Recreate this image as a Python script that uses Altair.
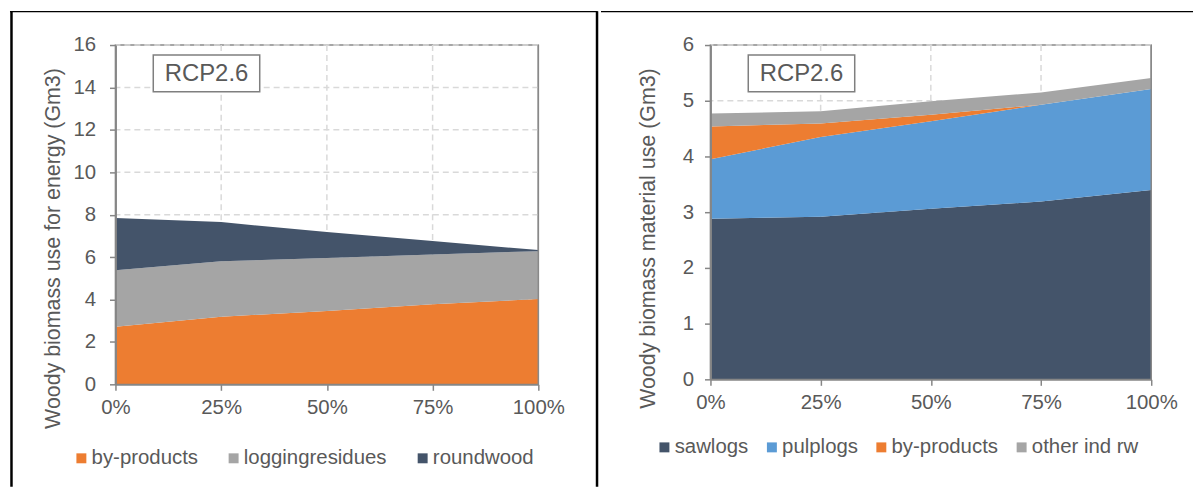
import altair as alt
import pandas as pd

# ---------------- data ----------------
shares = [0, 25, 50, 75, 100]

energy_series = ["by-products", "loggingresidues", "roundwood"]
energy_byproducts = [2.72, 3.19, 3.46, 3.77, 4.02]
energy_logging = [2.66, 2.61, 2.50, 2.35, 2.26]
energy_roundwood = [2.46, 1.85, 1.22, 0.64, 0.05]
energy_colors = ["#ED7D31", "#A5A5A5", "#44546A"]
energy_ticks = [0, 2, 4, 6, 8, 10, 12, 14, 16]

material_series = ["sawlogs", "pulplogs", "by-products", "other ind rw"]
mat_sawlogs = [2.88, 2.92, 3.06, 3.19, 3.40]
mat_pulplogs = [1.07, 1.43, 1.57, 1.74, 1.81]
mat_byproducts = [0.59, 0.24, 0.12, 0.00, 0.00]
mat_other = [0.23, 0.22, 0.24, 0.22, 0.20]
material_colors = ["#44546A", "#5B9BD5", "#ED7D31", "#A5A5A5"]
material_ticks = [0, 1, 2, 3, 4, 5, 6]

scenario_label = "RCP2.6"
energy_title = "Woody biomass use for energy (Gm3)"
material_title = "Woody biomass material use (Gm3)"

FONT = "Liberation Sans"
TXT = "#595959"
FS = 20.5
GRID = "#D9D9D9"
BORDER = "#898989"


def long_df(series, columns):
    rows = []
    for i, (name, vals) in enumerate(zip(series, columns)):
        for s, v in zip(shares, vals):
            rows.append({"share": s, "value": v, "series": name, "order": i})
    return pd.DataFrame(rows)


energy_df = long_df(energy_series, [energy_byproducts, energy_logging, energy_roundwood])
material_df = long_df(material_series, [mat_sawlogs, mat_pulplogs, mat_byproducts, mat_other])

ONE = alt.Data(values=[{}])


def panel(df, series, colors, ytitle, ticks, W, H, legx, legy, colpad,
          lpad, tpad, ty, deco):
    ymax = ticks[-1]
    xs = alt.Scale(domain=[shares[0], shares[-1]], nice=False, zero=False)
    ys = alt.Scale(domain=[0, ymax], nice=False)
    xa = alt.Axis(values=shares, labelExpr="datum.value + '%'", title=None,
                  grid=False, zindex=1, labelFlush=False, labelPadding=7)
    ya = alt.Axis(values=ticks, title=ytitle, grid=False, zindex=1,
                  labelPadding=lpad, titlePadding=tpad, titleY=ty)

    vgrid = alt.Chart(alt.Data(values=[{"share": s} for s in shares[1:-1]])).mark_rule(
        color=GRID, strokeWidth=1.5, strokeDash=[6, 4]).encode(
        x=alt.X("share:Q", scale=xs, axis=xa))
    hgrid = alt.Chart(alt.Data(values=[{"value": t} for t in ticks[1:]])).mark_rule(
        color=GRID, strokeWidth=1.5, strokeDash=[6, 4]).encode(
        y=alt.Y("value:Q", scale=ys, axis=ya))

    area = alt.Chart(df).mark_area(opacity=1, interpolate="linear").encode(
        x=alt.X("share:Q", scale=xs, axis=xa),
        y=alt.Y("value:Q", stack="zero", scale=ys, axis=ya),
        color=alt.Color("series:N", scale=alt.Scale(domain=series, range=colors),
                        legend=alt.Legend(title=None, orient="none", direction="horizontal",
                                          legendX=legx, legendY=legy, columnPadding=colpad)),
        order=alt.Order("order:Q"),
    )
    rborder = alt.Chart(alt.Data(values=[{"share": shares[-1]}])).mark_rule(
        color=BORDER, strokeWidth=1.5).encode(x=alt.X("share:Q", scale=xs, axis=xa))
    box = alt.Chart(ONE).mark_rect(fill="white", stroke="#7F7F7F", strokeWidth=1.5).encode(
        x=alt.value(38), x2=alt.value(145), y=alt.value(10), y2=alt.value(47))
    label = alt.Chart(ONE).mark_text(text=scenario_label, font=FONT, fontSize=24, color=TXT,
                                     align="center", baseline="middle").encode(
        x=alt.value(91.5), y=alt.value(29.5))
    return alt.layer(vgrid, hgrid, area, rborder, box, label, *deco).properties(width=W, height=H)


def hline(x1, x2, yv, w):
    return alt.Chart(ONE).mark_rule(color="black", strokeWidth=w).encode(
        x=alt.value(x1), x2=alt.value(x2), y=alt.value(yv))


def vline(xv, y1, y2, w):
    return alt.Chart(ONE).mark_rule(color="black", strokeWidth=w).encode(
        x=alt.value(xv), y=alt.value(y1), y2=alt.value(y2))


left = panel(energy_df, energy_series, energy_colors, energy_title, energy_ticks, 425, 341,
             -44.5, 405, 25, 14, 8, 204,
             [hline(-106, 484.5, -33.5, 1.2), vline(-104.5, -34, 444, 2.5),
              vline(484, -34, 444, 2.5)])
right = panel(material_df, material_series, material_colors, material_title, material_ticks,
              443, 336, -56.5, 394, 13, 11, 23, 194,
              [hline(-110, 485, -33.5, 1.2)])

chart = alt.hconcat(left, right, spacing=0).resolve_scale(
    color="independent").resolve_legend(color="independent").properties(
    padding=0, background="white"
).configure_view(
    stroke=BORDER, strokeWidth=1.5
).configure_axis(
    domainColor="#868686", domainWidth=2, tickColor="#868686", tickSize=6, tickWidth=1.5,
    labelColor=TXT, labelFont=FONT, labelFontSize=FS,
    titleColor=TXT, titleFont=FONT, titleFontSize=21.5, titleFontWeight="normal",
).configure_legend(
    symbolType="square", symbolSize=100, symbolStrokeWidth=0, symbolOpacity=1,
    labelFont=FONT, labelFontSize=FS, labelColor=TXT, labelOffset=0, padding=0,
)

chart.save("out.html", embed_options={"renderer": "svg", "actions": False})
